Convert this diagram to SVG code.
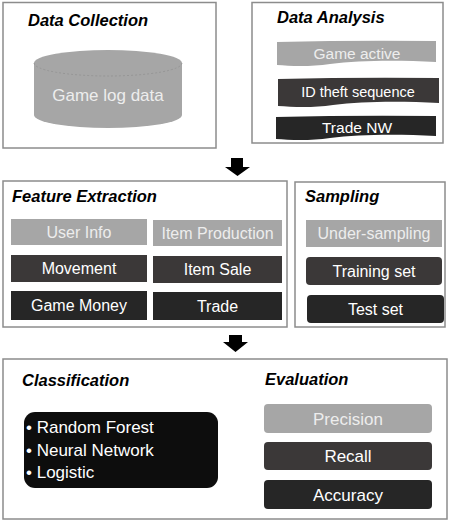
<svg xmlns="http://www.w3.org/2000/svg" width="457" height="521" viewBox="0 0 457 521">
<style>
.panel{fill:#fff;stroke:#8c8c8c;stroke-width:1.5}
.title{font-family:"Liberation Sans",Arial,sans-serif;font-weight:bold;font-style:italic;font-size:16.5px;fill:#000}
.lbl{font-family:"Liberation Sans",Arial,sans-serif;font-size:16px;text-anchor:middle}
.g1{fill:#a6a6a6}
.g2{fill:#3b3838}
.g3{fill:#262626}
.tl{fill:#ededed}
.tw{fill:#fff}
.arrow{fill:#000}
</style>
<rect width="457" height="521" fill="#fff"/>

<g id="data-collection">
<rect class="panel" x="3" y="2.5" width="213" height="145.5"/>
<text class="title" x="28" y="26">Data Collection</text>
<path class="g1" d="M34,63 A74,13 0 0 1 182,63 L182,115 A74,13 0 0 1 34,115 Z"/>
<path d="M34,63 A74,13 0 0 0 182,63" fill="none" stroke="#8f8f8f" stroke-width="0.7" stroke-dasharray="2,2"/>
<text class="lbl tl" x="108" y="101" style="font-size:17px">Game log data</text>
</g>

<g id="data-analysis">
<rect class="panel" x="252" y="2.5" width="191" height="140.5"/>
<text class="title" x="277" y="23">Data Analysis</text>
<path class="g1" d="M277,42 Q356,40 436,41 L436,62 C400,60 360,60 330,64 C310,67 290,66 277,65 Z"/>
<text class="lbl tl" x="357" y="59" style="font-size:15.5px">Game active</text>
<path class="g2" d="M278,79 Q358,77 439,78 L439,103 C403,101 363,101 333,105 C313,108 293,107 278,106 Z"/>
<text class="lbl tw" x="358" y="97" style="font-size:14.5px">ID theft sequence</text>
<path class="g3" d="M276,117 Q356,115 436,116 L436,136 C400,134 360,134 330,138 C310,141 290,140 276,139 Z"/>
<text class="lbl tw" x="357" y="133" style="font-size:15.5px">Trade NW</text>
</g>

<g id="feature-extraction">
<rect class="panel" x="3" y="181" width="284" height="146"/>
<text class="title" x="12" y="202">Feature Extraction</text>
<rect class="g1" x="11" y="219" width="136" height="26"/>
<text class="lbl tl" x="79" y="238">User Info</text>
<rect class="g1" x="153" y="220" width="129" height="26"/>
<text class="lbl tl" x="217.5" y="239">Item Production</text>
<rect class="g2" x="11" y="255" width="136" height="27"/>
<text class="lbl tw" x="79" y="274">Movement</text>
<rect class="g2" x="153" y="256" width="129" height="27"/>
<text class="lbl tw" x="217.5" y="275">Item Sale</text>
<rect class="g3" x="11" y="291" width="136" height="29"/>
<text class="lbl tw" x="79" y="311">Game Money</text>
<rect class="g3" x="153" y="292" width="129" height="28"/>
<text class="lbl tw" x="217.5" y="312">Trade</text>
</g>

<g id="sampling">
<rect class="panel" x="295" y="182" width="150" height="145"/>
<text class="title" x="305" y="202">Sampling</text>
<rect class="g1" x="306" y="220" width="136" height="27"/>
<text class="lbl tl" x="374" y="239">Under-sampling</text>
<rect class="g2" x="306" y="257" width="136" height="28" rx="4"/>
<text class="lbl tw" x="374" y="276.5">Training set</text>
<rect class="g3" x="307" y="295" width="137" height="28" rx="4"/>
<text class="lbl tw" x="375.5" y="314.5">Test set</text>
</g>

<g id="classification-evaluation">
<rect class="panel" x="3" y="359" width="444" height="160"/>
<text class="title" x="22" y="386">Classification</text>
<rect x="24" y="412" width="194" height="76" rx="11" fill="#0d0d0d"/>
<g style="font-family:'Liberation Sans',Arial,sans-serif;font-size:17px;fill:#fff">
<text x="26" y="433">• Random Forest</text>
<text x="26" y="456">• Neural Network</text>
<text x="26" y="478">• Logistic</text>
</g>
<text class="title" x="265" y="385">Evaluation</text>
<rect class="g1" x="264" y="404" width="168" height="29" rx="4"/>
<text class="lbl tl" x="348" y="424.5" style="font-size:17px">Precision</text>
<rect class="g2" x="264" y="442" width="168" height="28" rx="4"/>
<text class="lbl tw" x="348" y="462" style="font-size:17px">Recall</text>
<rect class="g3" x="264" y="480" width="168" height="29" rx="4"/>
<text class="lbl tw" x="348" y="500.5" style="font-size:17px">Accuracy</text>
</g>

<g id="connectors">
<polygon class="arrow" points="231,158 243,158 243,167 250,167 237.5,176 225,167 231,167"/>
<polygon class="arrow" points="229,335 242,335 242,342 248,342 235.5,352 223,342 229,342"/>
</g>
</svg>
